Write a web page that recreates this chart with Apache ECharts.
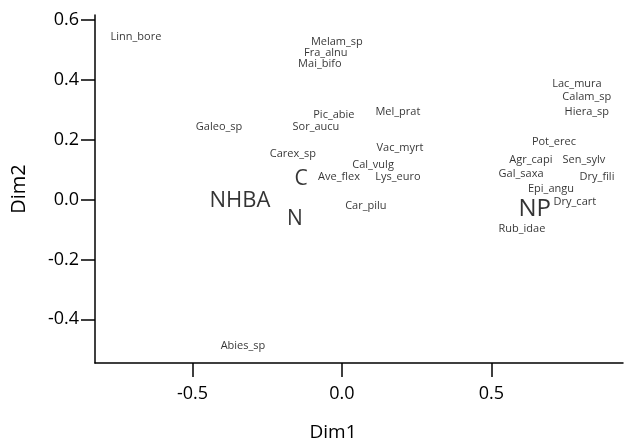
<!DOCTYPE html>
<html><head><meta charset="utf-8">
<script src="https://cdn.jsdelivr.net/npm/echarts@6/dist/echarts.min.js"></script>
<style>html,body{margin:0;padding:0;background:#fff}#c{width:625px;height:440px}</style>
</head><body><div id="c"></div>
<script>
// Species labels (positions)
const speciesNames = ["Linn_bore","Melam_sp","Fra_alnu","Mai_bifo","Pic_abie","Sor_aucu","Galeo_sp","Mel_prat","Carex_sp","Vac_myrt","Cal_vulg","Ave_flex","Lys_euro","Car_pilu","Abies_sp","Lac_mura","Calam_sp","Hiera_sp","Pot_erec","Agr_capi","Sen_sylv","Gal_saxa","Dry_fili","Epi_angu","Dry_cart","Rub_idae"];
const speciesDim1 = [-0.689,-0.017,-0.054,-0.074,-0.027,-0.087,-0.411,0.187,-0.164,0.194,0.104,-0.010,0.187,0.080,-0.331,0.786,0.819,0.819,0.709,0.632,0.809,0.599,0.853,0.699,0.779,0.602];
const speciesDim2 = [0.543,0.526,0.489,0.452,0.281,0.241,0.241,0.291,0.154,0.171,0.117,0.074,0.074,-0.020,-0.489,0.385,0.342,0.291,0.194,0.131,0.131,0.084,0.074,0.037,-0.007,-0.097];
// Group labels
const groupNames = ["NHBA","C","N","NP"];
const groupDim1 = [-0.341,-0.137,-0.157,0.645];
const groupDim2 = [-0.003,0.067,-0.064,-0.032];
const groupSizes = [22,21,21,24];
// Axis ticks
const xTicks = [-0.5,0.0,0.5];
const yTicks = [-0.4,-0.2,0.0,0.2,0.4,0.6];

const FONT = "Open Sans";
const chart = echarts.init(document.getElementById('c'));
chart.setOption({
  animation:false,
  grid:{left:95,right:2,top:15,bottom:77,outerBoundsMode:'none',containLabel:false},
  xAxis:{type:'value',min:-0.826,max:0.94,name:'Dim1',nameLocation:'middle',nameGap:60,
    nameTextStyle:{fontFamily:FONT,fontSize:19,color:'#000',padding:[0,52,0,0]},
    splitLine:{show:false},
    axisLine:{onZero:false,lineStyle:{color:'#000',width:1.5}},
    axisTick:{show:true,length:14,customValues:xTicks,lineStyle:{color:'#000',width:1.5}},
    axisLabel:{customValues:xTicks,margin:22,fontFamily:FONT,fontSize:18,color:'#000',formatter:v=>v.toFixed(1)}},
  yAxis:{type:'value',min:-0.546,max:0.616,name:'Dim2',nameLocation:'middle',nameGap:66,
    nameTextStyle:{fontFamily:FONT,fontSize:20,color:'#000'},
    splitLine:{show:false},
    axisLine:{onZero:false,lineStyle:{color:'#000',width:1.5}},
    axisTick:{show:true,length:14,customValues:yTicks,lineStyle:{color:'#000',width:1.5}},
    axisLabel:{customValues:yTicks,margin:16,fontFamily:FONT,fontSize:18,color:'#000',formatter:v=>v.toFixed(1)}},
  series:[
    {type:'scatter',symbolSize:0,silent:true,
     data:speciesNames.map((n,i)=>({name:n,value:[speciesDim1[i],speciesDim2[i]]})),
     label:{show:true,position:'inside',formatter:p=>p.name,fontFamily:FONT,fontSize:11,color:'#000'}},
    {type:'scatter',symbolSize:0,silent:true,
     data:groupNames.map((n,i)=>({name:n,value:[groupDim1[i],groupDim2[i]],
       label:{fontSize:groupSizes[i]}})),
     label:{show:true,position:'inside',formatter:p=>p.name,fontFamily:FONT,color:'#000'}}
  ]
});
</script></body></html>
